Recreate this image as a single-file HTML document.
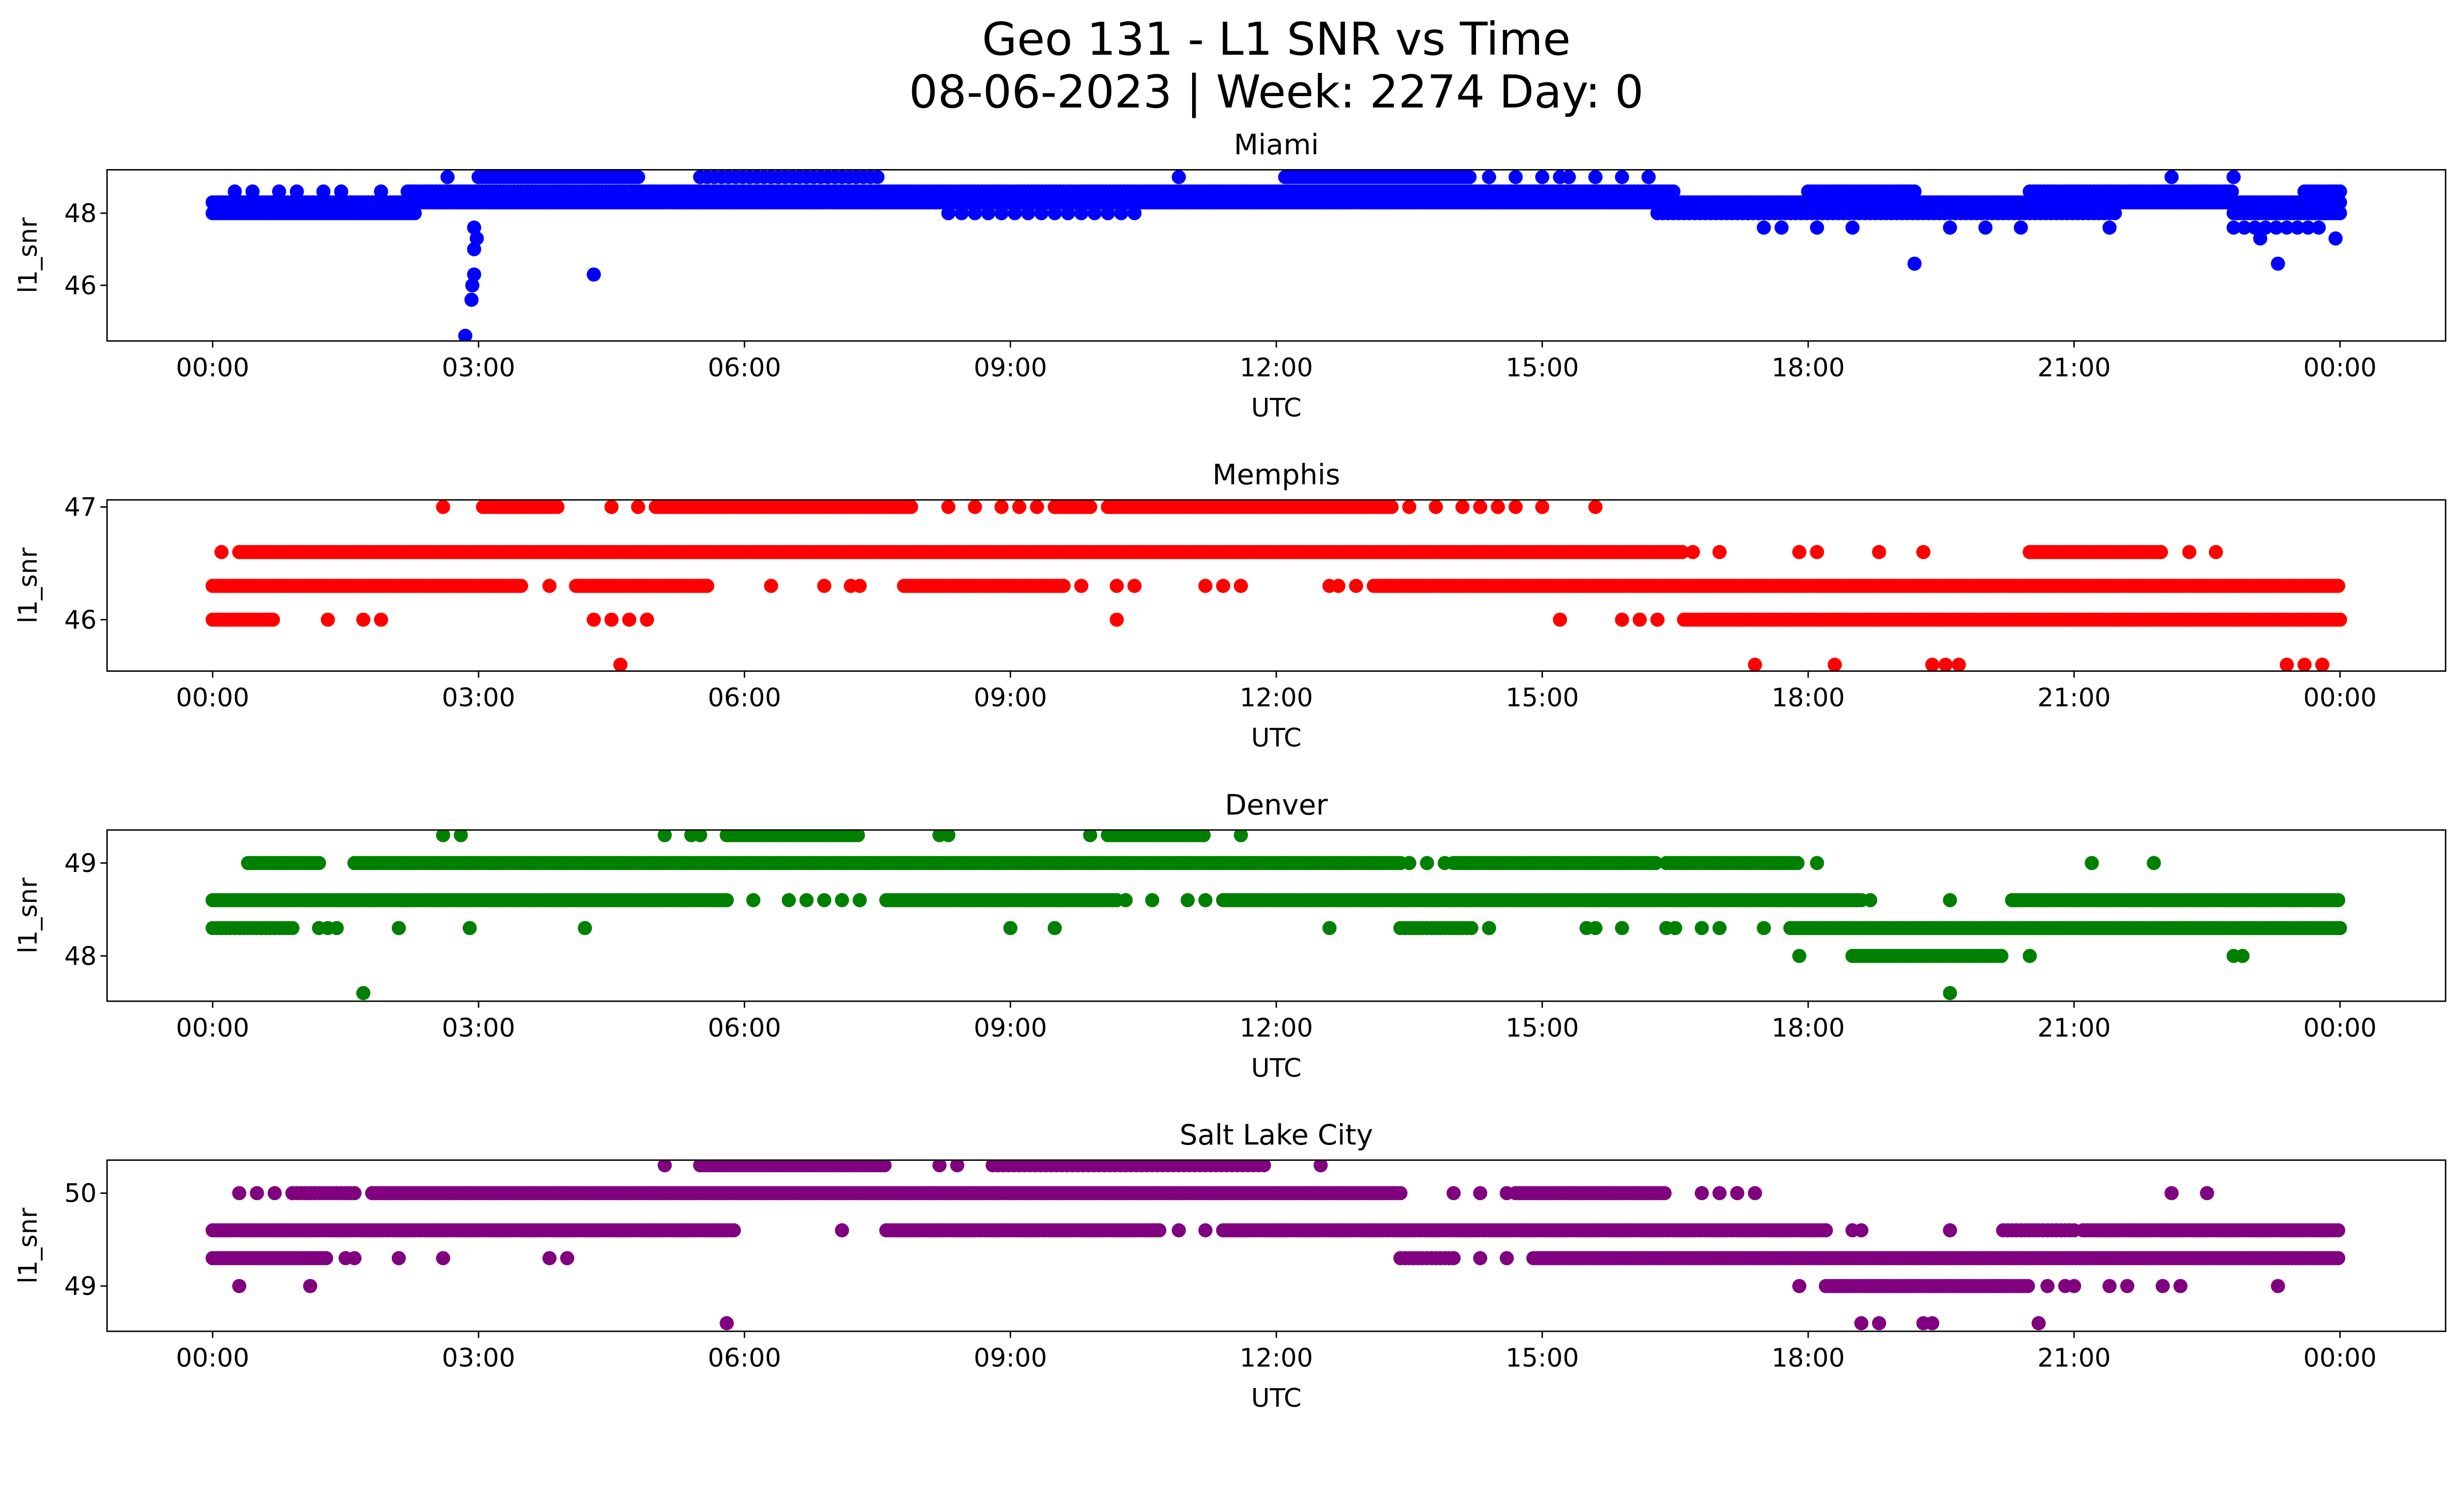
<!DOCTYPE html>
<html><head><meta charset="utf-8"><style>
html,body{margin:0;padding:0;background:#fff;overflow:hidden;}
body{width:100vw;height:58.0367vw;}
svg{display:block;position:absolute;left:0;top:0;width:100vw;height:58.0367vw;font-family:"DejaVu Sans","Liberation Sans",sans-serif;}
</style></head><body>
<svg id="fig" viewBox="0 0 5226 3033" preserveAspectRatio="none" xmlns="http://www.w3.org/2000/svg">
<rect width="5226" height="3033" fill="#fff"/>
<text x="2707" y="116" font-size="96" text-anchor="middle">Geo 131 - L1 SNR vs Time</text>
<text x="2707" y="228" font-size="96" text-anchor="middle">08-06-2023 | Week: 2274 Day: 0</text>
</svg>
<script>
// ---------- data (hours UTC, SNR dB-Hz) ----------
const panelNames = ["Miami","Memphis","Denver","Salt Lake City"];
const panelColors = ["#0000ff","#ff0000","#008000","#800080"];
const xTickLabels = ["00:00","03:00","06:00","09:00","12:00","15:00","18:00","21:00","00:00"];
const xTickHours = [0,3,6,9,12,15,18,21,24];

const miamiYTicks = [46,48];
const miamiRunStart = [0.0,0.0,2.2,3.0,5.5,12.1,8.3,16.3,22.8,18.0,20.5,23.6,14.4,22.8];
const miamiRunEnd   = [2.3,24.0,16.5,4.8,7.5,14.2,10.5,21.5,24.0,19.2,22.8,24.0,16.3,23.8];
const miamiRunLevel = [48.0,48.3,48.6,49.0,49.0,49.0,48.0,48.0,48.0,48.6,48.6,48.6,49.0,47.6];
const miamiRunStep  = [0.04,0.04,0.04,0.04,0.08,0.04,0.15,0.06,0.04,0.04,0.04,0.04,0.3,0.12];
const miamiPtTime  = [0.25,0.45,0.75,0.95,1.25,1.45,1.9,2.65,2.85,2.92,2.93,2.95,2.95,2.95,2.98,4.3,10.9,15.2,15.6,16.2,17.5,17.7,18.1,18.5,19.2,19.6,20.0,20.4,21.4,22.1,22.8,23.1,23.3,23.95];
const miamiPtLevel = [48.6,48.6,48.6,48.6,48.6,48.6,48.6,49.0,44.6,45.6,46.0,46.3,47.0,47.6,47.3,46.3,49.0,49.0,49.0,49.0,47.6,47.6,47.6,47.6,46.6,47.6,47.6,47.6,47.6,49.0,49.0,47.3,46.6,47.3];

const memphisYTicks = [46,47];
const memphisRunStart = [3.05,5.0,9.5,10.1,0.3,20.5,0.0,4.1,7.8,13.1,0.0,16.6];
const memphisRunEnd   = [3.9,7.9,9.9,13.3,16.6,22.0,3.5,5.6,9.6,24.0,0.7,24.0];
const memphisRunLevel = [47.0,47.0,47.0,47.0,46.6,46.6,46.3,46.3,46.3,46.3,46.0,46.0];
const memphisRunStep  = [0.04,0.04,0.04,0.04,0.04,0.04,0.04,0.04,0.04,0.04,0.04,0.04];
const memphisPtTime  = [2.6,4.5,4.8,8.3,8.6,8.9,9.1,9.3,13.5,13.8,14.1,14.3,14.5,14.7,15.0,15.6,0.1,16.7,17.0,17.9,18.1,18.8,19.3,22.3,22.6,3.8,6.3,6.9,7.2,7.3,9.8,10.2,10.4,11.2,11.4,11.6,12.6,12.7,12.9,1.3,1.7,1.9,4.3,4.5,4.7,4.9,10.2,15.2,15.9,16.1,16.3,4.6,17.4,18.3,19.4,19.55,19.7,23.4,23.6,23.8];
const memphisPtLevel = [47,47,47,47,47,47,47,47,47,47,47,47,47,47,47,47,46.6,46.6,46.6,46.6,46.6,46.6,46.6,46.6,46.6,46.3,46.3,46.3,46.3,46.3,46.3,46.3,46.3,46.3,46.3,46.3,46.3,46.3,46.3,46,46,46,46,46,46,46,46,46,46,46,46,45.6,45.6,45.6,45.6,45.6,45.6,45.6,45.6,45.6];

const denverYTicks = [48,49];
const denverRunStart = [5.8,10.1,0.4,1.6,14.0,16.4,0.0,7.6,11.4,20.3,0.0,13.4,17.8,18.5];
const denverRunEnd   = [7.3,11.2,1.2,13.4,16.3,17.9,5.8,10.2,18.6,24.0,0.9,14.2,24.0,20.2];
const denverRunLevel = [49.3,49.3,49.0,49.0,49.0,49.0,48.6,48.6,48.6,48.6,48.3,48.3,48.3,48.0];
const denverRunStep  = [0.04,0.04,0.04,0.04,0.04,0.04,0.04,0.04,0.04,0.04,0.05,0.05,0.04,0.04];
const denverPtTime  = [2.6,2.8,5.1,5.4,5.5,8.2,8.3,9.9,11.6,13.5,13.7,13.9,18.1,21.2,21.9,6.1,6.5,6.7,6.9,7.1,7.3,10.3,10.6,11.0,11.2,18.7,19.6,1.2,1.3,1.4,2.1,2.9,4.2,9.0,9.5,12.6,14.4,15.5,15.6,15.9,16.4,16.5,16.8,17.0,17.5,17.9,20.5,22.8,22.9,1.7,19.6];
const denverPtLevel = [49.3,49.3,49.3,49.3,49.3,49.3,49.3,49.3,49.3,49,49,49,49,49,49,48.6,48.6,48.6,48.6,48.6,48.6,48.6,48.6,48.6,48.6,48.6,48.6,48.3,48.3,48.3,48.3,48.3,48.3,48.3,48.3,48.3,48.3,48.3,48.3,48.3,48.3,48.3,48.3,48.3,48.3,48,48,48,48,47.6,47.6];

const slcYTicks = [49,50];
const slcRunStart = [5.5,8.8,0.9,1.8,14.7,0.0,7.6,11.4,20.2,21.1,0.0,13.4,14.9,18.2];
const slcRunEnd   = [7.6,11.9,1.6,13.4,16.4,5.9,10.7,18.2,21.0,24.0,1.3,14.0,24.0,20.5];
const slcRunLevel = [50.3,50.3,50.0,50.0,50.0,49.6,49.6,49.6,49.6,49.6,49.3,49.3,49.3,49.0];
const slcRunStep  = [0.04,0.06,0.05,0.04,0.04,0.04,0.04,0.04,0.05,0.04,0.04,0.05,0.04,0.04];
const slcPtTime  = [5.1,8.2,8.4,12.5,0.3,0.5,0.7,14.0,14.3,14.6,16.8,17.0,17.2,17.4,22.1,22.5,7.1,10.9,11.2,18.5,18.6,19.6,1.5,1.6,2.1,2.6,3.8,4.0,14.3,14.6,0.3,1.1,17.9,20.7,20.9,21.0,21.4,21.6,22.0,22.2,23.3,5.8,18.6,18.8,19.3,19.4,20.6];
const slcPtLevel = [50.3,50.3,50.3,50.3,50,50,50,50,50,50,50,50,50,50,50,50,49.6,49.6,49.6,49.6,49.6,49.6,49.3,49.3,49.3,49.3,49.3,49.3,49.3,49.3,49,49,49,49,49,49,49,49,49,49,49,48.6,48.6,48.6,48.6,48.6,48.6];

// ---------- layout ----------
const NS = "http://www.w3.org/2000/svg";
const svg = document.getElementById("fig");
const AX_L = 227, AX_R = 5187, X0 = 451, X1 = 4963;
const panelTop = [360,1060,1760,2460];
const PANEL_H = 363;
const yRefA = [92, 15, 70, 70], vRefA = [48, 47, 49, 50];
const yRefB = [245, 254, 267, 267], vRefB = [46, 46, 48, 49];
function xScale(h){ return X0 + (X1 - X0) * h / 24; }
function yScaleFor(p){ return v => panelTop[p] + yRefA[p] + (v - vRefA[p]) * (yRefB[p] - yRefA[p]) / (vRefB[p] - vRefA[p]); }

const seriesRuns = [
 [miamiRunStart,miamiRunEnd,miamiRunLevel,miamiRunStep,miamiPtTime,miamiPtLevel,miamiYTicks],
 [memphisRunStart,memphisRunEnd,memphisRunLevel,memphisRunStep,memphisPtTime,memphisPtLevel,memphisYTicks],
 [denverRunStart,denverRunEnd,denverRunLevel,denverRunStep,denverPtTime,denverPtLevel,denverYTicks],
 [slcRunStart,slcRunEnd,slcRunLevel,slcRunStep,slcPtTime,slcPtLevel,slcYTicks]
];
function mk(tag, attrs, parent){ const e=document.createElementNS(NS,tag); for(const k in attrs) e.setAttribute(k,attrs[k]); (parent||svg).appendChild(e); return e; }

for (let p = 0; p < 4; p++) {
  const [rs,re,rl,rst,pt,pl,yt] = seriesRuns[p];
  const ys = yScaleFor(p);
  const top = panelTop[p], bot = top + PANEL_H;
  const g = mk("g",{});
  
  
  const clipId = "clip"+p;
  const cp = mk("clipPath",{id:clipId},g); mk("rect",{x:AX_L,y:top,width:AX_R-AX_L,height:PANEL_H},cp);
  const pts = mk("g",{fill:panelColors[p],"clip-path":"url(#"+clipId+")"},g);
  
  
  for (let i = 0; i < rs.length; i++) {
    for (let h = rs[i]; h <= re[i] + 1e-9; h += rst[i]) {
      const c = mk("ellipse",{cx:xScale(h).toFixed(1),cy:ys(rl[i]).toFixed(1),rx:15,ry:15},pts);
      
      
    }
  }
  for (let i = 0; i < pt.length; i++) {
    const c = mk("ellipse",{cx:xScale(pt[i]).toFixed(1),cy:ys(pl[i]).toFixed(1),rx:15,ry:15},pts);
    
    
  }
  const frame = mk("rect",{x:AX_L,y:top,width:AX_R-AX_L,height:PANEL_H,fill:"none",stroke:"#000","stroke-width":3},g);
  
  
  const title = mk("text",{x:(AX_L+AX_R)/2,y:top-33,"font-size":60,"text-anchor":"middle"},g);
  title.textContent = panelNames[p];
  
  
  for (let i = 0; i < xTickHours.length; i++) {
    const x = xScale(xTickHours[i]);
    mk("line",{x1:x,x2:x,y1:bot,y2:bot+14,stroke:"#000","stroke-width":3},g);
    const t = mk("text",{x:x,y:bot+75,"font-size":54,"text-anchor":"middle"},g);
    t.textContent = xTickLabels[i];
    
    
  }
  for (let i = 0; i < yt.length; i++) {
    const y = ys(yt[i]);
    mk("line",{x1:AX_L-14,x2:AX_L,y1:y,y2:y,stroke:"#000","stroke-width":3},g);
    const t = mk("text",{x:AX_L-22,y:y+19,"font-size":54,"text-anchor":"end"},g);
    t.textContent = yt[i];
    
    
  }
  const xl = mk("text",{x:(AX_L+AX_R)/2,y:bot+160,"font-size":54,"text-anchor":"middle"},g);
  xl.textContent = "UTC";
  
  
  const yl = mk("text",{x:0,y:0,"font-size":54,"text-anchor":"middle",transform:"translate(78,"+(top+PANEL_H/2)+") rotate(-90)"},g);
  yl.textContent = "l1_snr";
  
  
}
</script>
</body></html>
